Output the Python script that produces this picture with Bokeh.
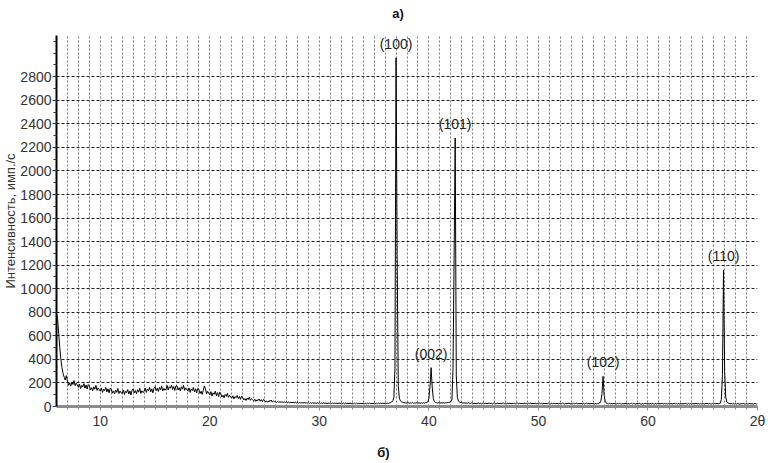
import numpy as np
from bokeh.plotting import figure
from bokeh.models import Range1d, FixedTicker, Title, LinearAxis
from bokeh.core.properties import value
from bokeh.embed import file_html
from bokeh.resources import INLINE

# scan: 2θ from 6.0° to 70.0°, step 0.1°
scan_start = 6.0
scan_step = 0.1
intensity = [
    790, 740, 620, 500, 400, 330, 280, 250, 225, 262,   # 6
    215, 180, 200, 173, 207, 187, 220, 177, 198, 183,   # 7
    162, 190, 152, 180, 167, 194, 156, 182, 148, 186,   # 8
    175, 140, 160, 133, 167, 147, 180, 137, 158, 143,   # 9
    130, 158, 120, 148, 135, 162, 124, 150, 116, 154,   # 10
    148, 113, 133, 106, 140, 120, 153, 110, 131, 116,   # 11
    112, 140, 102, 130, 117, 144, 106, 132, 98, 136,    # 12
    150, 115, 135, 108, 142, 122, 155, 112, 133, 118,   # 13
    130, 158, 120, 148, 135, 162, 124, 150, 116, 154,   # 14
    170, 135, 155, 128, 162, 142, 175, 132, 153, 138,   # 15
    150, 178, 140, 168, 155, 182, 144, 170, 136, 174,   # 16
    175, 140, 160, 133, 167, 147, 180, 137, 158, 143,   # 17
    130, 158, 120, 148, 135, 162, 124, 150, 116, 154,   # 18
    145, 110, 130, 103, 137, 175, 150, 107, 128, 113,   # 19
    98, 126, 88, 116, 103, 130, 92, 118, 84, 122,       # 20
    108, 80, 96, 74, 102, 86, 112, 78, 94, 82,          # 21
    71, 91, 64, 84, 75, 93, 67, 85, 61, 88,             # 22
    76, 55, 67, 51, 71, 59, 79, 53, 66, 57,             # 23
    48, 62, 43, 57, 50, 64, 45, 58, 41, 60,             # 24
    53, 39, 47, 36, 50, 42, 55, 38, 46, 40,             # 25
    44, 35, 43, 34, 42, 34, 41, 33, 40, 33,             # 26
    39, 32, 38, 31, 37, 31, 36, 30, 36, 30,             # 27
    35, 29, 35, 28, 34, 29, 34, 28, 33, 28,             # 28
    33, 27, 33, 27, 32, 27, 32, 26, 32, 27,             # 29
    31, 26, 31, 25, 31, 26, 30, 25, 30, 26,             # 30
    30, 25, 30, 24, 30, 25, 29, 24, 30, 25,             # 31
    29, 24, 29, 23, 29, 24, 28, 24, 29, 24,             # 32
    28, 23, 29, 23, 28, 24, 28, 23, 28, 24,             # 33
    28, 23, 28, 23, 28, 24, 29, 23, 28, 24,             # 34
    29, 24, 28, 23, 29, 24, 28, 24, 29, 25,             # 35
    29, 25, 29, 26, 31, 33, 38, 48, 75, 320,            # 36
    2960, 1290, 180, 70, 48, 40, 36, 34, 32, 30,        # 37
    29, 33, 27, 31, 28, 33, 27, 31, 28, 32,             # 38
    28, 32, 27, 31, 28, 32, 29, 33, 33, 40,             # 39
    70, 170, 330, 165, 68, 42, 35, 32, 30, 33,          # 40
    28, 32, 29, 33, 29, 32, 31, 34, 34, 36,             # 41
    40, 55, 320, 1250, 2280, 260, 75, 45, 38, 34,       # 42
    32, 29, 32, 28, 31, 27, 31, 28, 27, 31,             # 43
    27, 24, 29, 23, 26, 30, 24, 28, 23, 27,             # 44
    29, 24, 28, 23, 27, 29, 24, 28, 22, 27,             # 45
    28, 23, 27, 29, 24, 28, 23, 27, 29, 24,             # 46
    27, 23, 28, 24, 29, 23, 27, 24, 28, 23,             # 47
    27, 29, 23, 28, 24, 27, 22, 28, 24, 27,             # 48
    23, 28, 24, 29, 23, 27, 24, 28, 23, 27,             # 49
    24, 28, 23, 27, 22, 28, 24, 27, 23, 28,             # 50
    24, 22, 27, 23, 28, 24, 23, 27, 22, 26,             # 51
    27, 23, 28, 24, 22, 27, 23, 26, 28, 23,             # 52
    26, 22, 27, 23, 26, 28, 22, 26, 23, 27,             # 53
    23, 27, 22, 26, 28, 23, 27, 22, 26, 23,             # 54
    27, 22, 26, 23, 27, 24, 30, 45, 110, 256,           # 55
    95, 40, 28, 24, 22, 27, 23, 26, 22, 27,             # 56
    23, 21, 26, 22, 27, 23, 21, 26, 22, 25,             # 57
    27, 22, 26, 21, 25, 27, 22, 26, 23, 21,             # 58
    26, 22, 27, 23, 21, 26, 22, 25, 27, 22,             # 59
    25, 21, 26, 22, 27, 23, 22, 26, 21, 25,             # 60
    26, 22, 25, 27, 21, 26, 22, 25, 21, 26,             # 61
    22, 26, 21, 25, 27, 22, 26, 21, 25, 22,             # 62
    26, 21, 25, 22, 27, 23, 21, 26, 22, 25,             # 63
    21, 26, 22, 25, 27, 22, 26, 21, 25, 22,             # 64
    26, 22, 21, 25, 27, 22, 26, 23, 21, 26,             # 65
    22, 26, 23, 27, 22, 26, 28, 60, 270, 1160,          # 66
    300, 80, 38, 30, 26, 23, 26, 21, 25, 22,            # 67
    26, 21, 25, 22, 20, 25, 21, 26, 22, 21,             # 68
    25, 21, 24, 26, 21, 25, 20, 24, 25, 21,             # 69
    23,                                                 # 70
]
assert len(intensity) == 641
two_theta = np.round(scan_start + scan_step * np.arange(len(intensity)), 2)

peak_labels = ["(100)", "(002)", "(101)", "(102)", "(110)"]
peak_positions = [37.0, 40.2, 42.4, 55.9, 66.9]
peak_heights = [2960, 330, 2280, 256, 1160]

x_major_ticks = [10, 20, 30, 40, 50, 60, 70]
x_label_overrides = {70: "2θ"}
y_major_ticks = list(range(0, 2801, 200))

y_axis_title = "Интенсивность, имп./с"
top_caption = "а)"
bottom_caption = "б)"

FONT = "Liberation Sans"
NBSP = "\u00a0"

p = figure(width=768, height=463, output_backend="svg", toolbar_location=None,
           x_range=Range1d(6, 70), y_range=Range1d(0, 3150),
           min_border_left=56, min_border_right=11, min_border_top=35,
           min_border_bottom=57)
p.outline_line_color = None
p.background_fill_color = "white"
p.border_fill_color = "white"

xa = p.below[0]
ya = p.left[0]

# left title (y-axis caption)
p.add_layout(Title(text=y_axis_title, align="center", standoff=0,
                   text_font=FONT, text_font_size="13px", text_font_style="normal",
                   text_color="#333333"), "left")

# top caption: a bare axis above carrying only its label
top_axis = LinearAxis(ticker=FixedTicker(ticks=[]), axis_line_color=None,
                      major_tick_line_color=None, minor_tick_line_color=None,
                      major_tick_in=0, major_tick_out=0, minor_tick_in=0,
                      minor_tick_out=0, major_label_standoff=0,
                      axis_label=top_caption + NBSP * 5, axis_label_standoff=15,
                      axis_label_text_font=FONT, axis_label_text_font_size="13px",
                      axis_label_text_font_style="bold",
                      axis_label_text_color="#111111")
p.add_layout(top_axis, "above")

# grids
p.xgrid.ticker = FixedTicker(ticks=list(range(7, 71)))
p.xgrid.grid_line_color = "#7a7a7a"
p.xgrid.grid_line_dash = "2 2"
p.xgrid.grid_line_width = 1
p.ygrid.ticker = FixedTicker(ticks=list(range(200, 2801, 200)))
p.ygrid.grid_line_color = "#1e1e1e"
p.ygrid.grid_line_dash = "3 2"
p.ygrid.grid_line_width = 1

# x axis (bottom caption as its label)
xa.ticker = FixedTicker(ticks=x_major_ticks, minor_ticks=list(range(7, 70)))
xa.major_label_overrides = x_label_overrides
xa.axis_line_color = "#8c8c8c"
xa.axis_line_width = 3
xa.major_tick_line_color = "#8c8c8c"
xa.minor_tick_line_color = "#8c8c8c"
xa.major_tick_in = 0
xa.major_tick_out = 4
xa.minor_tick_in = 0
xa.minor_tick_out = 3
xa.major_label_standoff = 2
xa.major_label_text_font = FONT
xa.major_label_text_font_size = "14px"
xa.major_label_text_color = "#333333"
xa.axis_label = bottom_caption + NBSP * 13
xa.axis_label_standoff = 13
xa.axis_label_text_font = FONT
xa.axis_label_text_font_size = "13px"
xa.axis_label_text_font_style = "bold"
xa.axis_label_text_color = "#111111"

# y axis
ya.ticker = FixedTicker(ticks=y_major_ticks, minor_ticks=list(range(100, 3101, 100)))
ya.axis_line_color = "black"
ya.axis_line_width = 2
ya.major_tick_line_color = "#333333"
ya.minor_tick_line_color = "#333333"
ya.major_tick_in = 0
ya.major_tick_out = 4
ya.minor_tick_in = 0
ya.minor_tick_out = 3
ya.major_label_standoff = 1
ya.major_label_text_font = FONT
ya.major_label_text_font_size = "14px"
ya.major_label_text_color = "#333333"

# data
p.line(two_theta, intensity, line_color="black", line_width=1)

p.text(x=peak_positions, y=peak_heights, text=peak_labels,
       text_align="center", text_baseline="bottom", y_offset=-6,
       text_font=value(FONT), text_font_size="14px", text_color="#222222")

open("out.html", "w").write(file_html(p, INLINE))
